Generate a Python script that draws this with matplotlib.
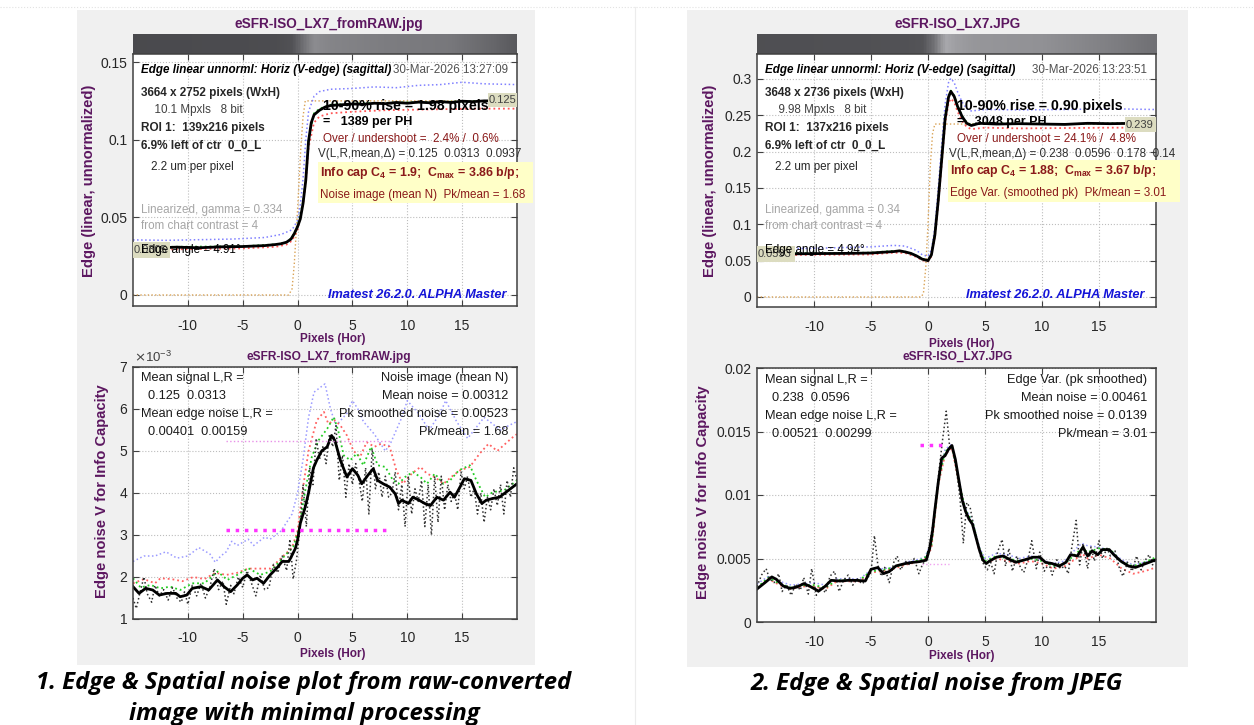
import matplotlib
matplotlib.use('Agg')
import matplotlib.pyplot as plt
import numpy as np
from matplotlib.patches import Rectangle
from matplotlib.colors import LinearSegmentedColormap

W, H = 1254, 725
plt.rcParams['font.family'] = ['Liberation Sans', 'DejaVu Sans']

# ---------------- data ----------------
# top-left: edge profile, raw-converted image
tl_black_x = [-15, -13, -11, -9, -7, -5, -3, -2, -1.5, -1, -0.6, -0.3, 0, 0.25, 0.5, 0.75, 1.0, 1.25,
              1.5, 2, 2.5, 3, 4, 5, 6, 7, 8, 9, 10, 11, 12, 13, 14, 15, 16, 17, 18, 19, 20]
tl_black_y = [0.0305, 0.0303, 0.0308, 0.0304, 0.0310, 0.0312, 0.0318, 0.0325, 0.0330, 0.0340, 0.0360,
              0.0395, 0.0440, 0.0490, 0.0590, 0.0740, 0.0990, 0.1110, 0.1160, 0.1190, 0.1210, 0.1220,
              0.1225, 0.1230, 0.1228, 0.1235, 0.1232, 0.1240, 0.1235, 0.1242, 0.1238, 0.1245, 0.1240,
              0.1248, 0.1245, 0.1250, 0.1250, 0.1252, 0.1250]
tl_red_x = [-15, -10, -5, -2, -1, -0.5, 0, 0.5, 0.75, 1.0, 1.5, 2, 3, 5, 8, 12, 16, 20]
tl_red_y = [0.029, 0.0295, 0.030, 0.031, 0.0325, 0.035, 0.042, 0.058, 0.073, 0.095, 0.111, 0.115,
            0.117, 0.118, 0.119, 0.1195, 0.120, 0.120]
tl_green_x = [-15, -5, -2, -1, -0.5, 0, 0.5, 0.75, 1.0, 1.5, 2, 3, 6, 10, 14, 17, 20]
tl_green_y = [0.0308, 0.0314, 0.0326, 0.034, 0.037, 0.044, 0.060, 0.075, 0.100, 0.117, 0.120, 0.1225,
              0.1235, 0.124, 0.1245, 0.125, 0.125]
tl_blue_x = [-15, -12, -9, -6, -3, -1.5, -0.5, 0, 0.25, 0.5, 0.75, 1.0, 1.5, 2.0, 3, 5, 7, 9, 11, 13,
             15, 17, 20]
tl_blue_y = [0.0355, 0.0352, 0.0356, 0.036, 0.037, 0.039, 0.042, 0.048, 0.058, 0.075, 0.100, 0.118,
             0.128, 0.131, 0.1325, 0.133, 0.134, 0.1335, 0.135, 0.1355, 0.137, 0.136, 0.1355]
tl_ideal_x = [-15, -0.8, -0.5, -0.3, 0, 0.3, 0.5, 0.7, 20]
tl_ideal_y = [0, 0, 0.004, 0.02, 0.055, 0.095, 0.115, 0.125, 0.125]

# top-right: edge profile, camera JPEG
tr_x = [-15, -13, -11, -9, -7, -5, -4, -3, -2.5, -2, -1.5, -1, -0.5, 0, 0.3, 0.6, 0.9, 1.2, 1.5, 1.8,
        2.0, 2.3, 2.6, 3.0, 3.4, 3.8, 4.5, 6, 8, 10, 12, 14, 16, 18, 20]
tr_black_y = [0.0593, 0.0592, 0.0595, 0.0598, 0.0600, 0.0605, 0.0615, 0.0625, 0.0635, 0.062, 0.060,
              0.0565, 0.052, 0.050, 0.058, 0.085, 0.133, 0.189, 0.245, 0.275, 0.283, 0.276, 0.262,
              0.248, 0.239, 0.236, 0.239, 0.238, 0.2385, 0.238, 0.2375, 0.239, 0.2385, 0.239, 0.239]
tr_c_x = [-15, -10, -5, -3, -2, -1, -0.5, 0, 0.3, 0.6, 0.9, 1.2, 1.5, 1.8, 2.0, 2.3, 2.6, 3.0, 3.4,
          3.8, 5, 8, 12, 16, 20]
tr_red_y = [0.0575, 0.058, 0.0585, 0.061, 0.0605, 0.055, 0.0505, 0.049, 0.056, 0.082, 0.128, 0.183,
            0.238, 0.267, 0.273, 0.268, 0.255, 0.242, 0.234, 0.231, 0.233, 0.232, 0.2325, 0.233, 0.233]
tr_green_y = [0.060, 0.0603, 0.061, 0.0635, 0.0625, 0.057, 0.0525, 0.0505, 0.058, 0.086, 0.134, 0.19,
              0.246, 0.276, 0.284, 0.277, 0.263, 0.249, 0.24, 0.237, 0.2395, 0.2385, 0.238, 0.239, 0.2395]
tr_blue_y = [0.066, 0.067, 0.069, 0.071, 0.070, 0.064, 0.058, 0.056, 0.065, 0.095, 0.15, 0.21, 0.265,
             0.295, 0.301, 0.295, 0.282, 0.268, 0.259, 0.256, 0.258, 0.2575, 0.258, 0.259, 0.258]
tr_ideal_x = [-15, -0.6, -0.4, -0.2, 0, 0.2, 0.4, 0.6, 20]
tr_ideal_y = [0, 0, 0.005, 0.04, 0.10, 0.18, 0.225, 0.238, 0.238]

# bottom-left: edge noise (x1e-3), raw-converted image
bl_black_x = [-15, -14.45, -13.85, -13.2, -12.6, -11.9, -11.1, -10.7, -10.1, -9.6, -8.8, -8.1, -7.3,
              -6.7, -6.1, -5.5, -5.0, -4.6, -4.1, -3.7, -3.1, -2.5, -1.9, -1.4, -0.8, -0.5, -0.2, 0,
              0.25, 0.7, 1.0, 1.45, 1.75, 2.2, 2.7, 3.1, 3.4, 3.9, 4.5, 5.0, 5.5, 5.85, 6.4, 6.9, 7.3,
              7.8, 8.4, 8.9, 9.2, 9.5, 10.1, 10.5, 11.0, 11.6, 12.1, 12.7, 13.3, 13.9, 14.3, 14.8,
              15.2, 15.8, 16.3, 16.8, 17.2, 17.8, 18.4, 19.2, 20]
bl_black_y = [1.77, 1.61, 1.73, 1.69, 1.57, 1.61, 1.61, 1.53, 1.57, 1.73, 1.77, 1.69, 1.93, 1.77, 1.65,
              1.81, 1.97, 2.05, 1.93, 1.97, 1.85, 2.05, 2.21, 2.37, 2.37, 2.52, 2.68, 2.88, 3.28, 3.67,
              4.0, 4.6, 4.78, 5.0, 5.1, 5.37, 5.25, 4.78, 4.38, 4.58, 4.42, 4.22, 4.42, 4.58, 4.3, 4.22,
              4.14, 3.98, 3.75, 3.83, 3.75, 3.9, 3.84, 3.75, 3.7, 3.9, 3.83, 4.02, 3.9, 4.14, 4.34, 4.3,
              3.98, 3.75, 3.83, 3.87, 3.9, 4.06, 4.22]
bl_green_x = [-15, -14.3, -13.4, -12.5, -11.6, -10.7, -9.6, -8.5, -7.3, -6.4, -5.5, -4.5, -3.4, -2.5,
              -1.4, -0.4, 0.1, 0.7, 1.3, 1.9, 2.7, 3.3, 3.7, 4.2, 4.8, 5.4, 6.0, 6.7, 7.3, 8.0, 8.7,
              9.2, 9.8, 10.5, 11.2, 11.8, 12.5, 13.3, 13.9, 14.7, 15.7, 16.3, 17.1, 17.8, 18.8, 19.8, 20]
bl_green_y = [1.97, 1.75, 1.81, 1.73, 1.77, 1.69, 1.85, 1.85, 2.13, 1.93, 2.05, 2.21, 2.05, 2.13, 2.44,
              2.72, 3.12, 4.06, 4.86, 5.25, 5.53, 5.81, 5.49, 4.9, 4.78, 4.94, 4.66, 5.1, 4.66, 4.62,
              4.3, 4.22, 4.38, 4.5, 4.38, 4.22, 4.46, 4.22, 4.3, 4.54, 4.66, 4.3, 3.9, 4.02, 4.06, 4.26, 4.3]
bl_red_x = [-15, -14, -13, -12.5, -11.5, -10.5, -9.5, -8.5, -7.5, -6.5, -5.5, -4.5, -3.5, -2.5, -1.5,
            -0.5, 0, 0.55, 1.0, 1.75, 2.4, 2.8, 3.4, 3.9, 4.5, 5.1, 5.7, 6.3, 7.0, 7.6, 8.4, 9.0, 9.6,
            10.4, 11.2, 11.8, 12.5, 13.3, 14.0, 14.8, 15.7, 16.6, 17.4, 18.2, 19.1, 19.8, 20]
bl_red_y = [1.85, 1.95, 1.85, 1.97, 1.95, 1.9, 2.0, 1.95, 2.1, 2.05, 2.1, 2.2, 2.2, 2.2, 2.45, 2.7, 3.1,
            4.22, 5.0, 5.73, 5.93, 5.65, 5.73, 5.61, 5.37, 5.0, 4.86, 5.21, 5.1, 5.17, 5.1, 4.54, 4.22,
            4.46, 4.62, 4.46, 4.38, 4.22, 4.38, 4.54, 4.62, 4.94, 5.17, 5.0, 5.21, 5.37, 5.4]
bl_blue_x = [-15, -14, -13, -12, -11, -10, -9, -8, -7.5, -7, -6.5, -6, -5.5, -4.5, -4, -3, -2.5, -1.5,
             -0.5, 0, 0.5, 1.0, 1.5, 2.5, 3.0, 3.5, 4.5, 5.0, 5.5, 6, 7, 8, 8.5, 9.5, 10, 11, 12, 13,
             13.5, 14.5, 15.5, 17, 18.5, 19.2, 20]
bl_blue_y = [2.37, 2.5, 2.5, 2.6, 2.45, 2.5, 2.7, 2.55, 2.35, 2.5, 2.6, 2.85, 2.75, 2.9, 2.75, 2.95, 2.9,
             3.1, 3.5, 4.0, 4.8, 5.8, 6.4, 6.6, 6.0, 5.6, 5.9, 6.2, 6.0, 5.7, 5.4, 5.0, 5.2, 5.8, 6.2,
             5.9, 5.5, 5.9, 6.2, 5.7, 5.3, 5.8, 5.5, 5.6, 5.7]
bl_raw_x = [-15, -14.7, -14.3, -14, -13.7, -13.3, -13, -12.6, -12.2, -11.8, -11.4, -11, -10.6, -10.3,
            -10, -9.6, -9.2, -8.8, -8.4, -8, -7.6, -7.2, -6.8, -6.5, -6.1, -5.8, -5.4, -5, -4.6, -4.2,
            -3.8, -3.4, -3, -2.6, -2.2, -1.8, -1.4, -1.0, -0.7, -0.4, -0.1, 0.2, 0.5, 0.8, 1.1, 1.4,
            1.7, 2.0, 2.3, 2.6, 2.9, 3.2, 3.5, 3.8, 4.1, 4.4, 4.7, 5.0, 5.3, 5.6, 5.9, 6.2, 6.5, 6.8,
            7.1, 7.4, 7.7, 8.0, 8.3, 8.6, 8.9, 9.2, 9.5, 9.8, 10.1, 10.4, 10.7, 11.0, 11.3, 11.6, 11.9,
            12.2, 12.5, 12.8, 13.1, 13.4, 13.7, 14.0, 14.3, 14.6, 14.9, 15.2, 15.5, 15.8, 16.1, 16.4,
            16.7, 17.0, 17.3, 17.6, 17.9, 18.2, 18.5, 18.8, 19.1, 19.4, 19.7, 20]
bl_raw_y = [1.5, 1.25, 1.7, 2.0, 1.6, 1.4, 1.8, 1.55, 1.7, 1.45, 1.75, 1.5, 1.4, 1.65, 1.35, 1.8, 1.55,
            1.85, 1.5, 1.75, 2.2, 1.7, 1.9, 1.35, 1.8, 1.6, 2.0, 1.75, 2.15, 1.85, 1.55, 2.05, 1.7, 1.75,
            2.3, 2.1, 2.5, 2.15, 2.9, 1.95, 2.4, 3.1, 4.2, 3.2, 4.6, 4.2, 5.3, 4.8, 5.1, 4.7, 5.4, 5.1,
            5.6, 4.3, 4.9, 3.9, 4.7, 4.2, 4.7, 4.3, 3.8, 4.6, 3.5, 5.05, 4.1, 4.5, 3.9, 4.4, 3.9, 4.0,
            4.5, 3.6, 4.2, 3.2, 4.4, 3.5, 4.1, 3.8, 4.3, 3.2, 4.2, 3.0, 4.4, 3.3, 4.4, 3.6, 4.2, 3.8,
            4.0, 3.6, 4.5, 4.1, 4.4, 3.9, 4.1, 3.5, 4.0, 3.3, 3.9, 3.6, 4.1, 3.7, 4.2, 3.5, 4.3, 3.9,
            4.6, 4.3]
bl_pk_x = [-6.5, 8.4]
bl_pk_y = [5.25, 5.25]
bl_mean_x = [-6.5, 8.4]
bl_mean_y = [3.12, 3.12]

# bottom-right: edge noise, camera JPEG
br_black_x = [-15, -14.3, -13.7, -13.3, -12.7, -12.1, -11.5, -10.9, -10.4, -9.6, -9.0, -8.5, -7.7,
              -7.0, -6.3, -5.5, -5.0, -4.4, -3.9, -3.4, -2.8, -2.0, -1.5, -0.7, -0.15, 0.15, 0.4,
              0.6, 0.9, 1.2, 1.5, 1.8, 2.1, 2.4, 2.7, 3.0, 3.3, 3.6, 3.9, 4.2, 4.5, 4.8, 5.1, 5.4,
              6.0, 6.6, 7.1, 7.7, 8.5, 9.2, 9.8, 10.3, 10.9, 11.5, 12.1, 12.5, 13.1, 13.6, 14.0, 14.4,
              14.9, 15.3, 15.9, 16.3, 16.9, 17.6, 18.2, 18.8, 19.4, 20.0]
br_black_y = [0.0026, 0.0031, 0.00355, 0.00336, 0.00283, 0.00265, 0.00275, 0.00302, 0.00283, 0.00243,
              0.00283, 0.00328, 0.00323, 0.00328, 0.00328, 0.00323, 0.00415, 0.00429, 0.00381,
              0.00397, 0.00442, 0.0046, 0.00468, 0.00476, 0.00487, 0.0058, 0.0072, 0.0088, 0.0110,
              0.0129, 0.0131, 0.0136, 0.0139, 0.0128, 0.0112, 0.0096, 0.0087, 0.0081, 0.0077, 0.0067,
              0.0057, 0.0049, 0.0046, 0.0048, 0.0051, 0.0052, 0.00495, 0.0047, 0.0049, 0.0051, 0.0051,
              0.0047, 0.0046, 0.0044, 0.0047, 0.0053, 0.0052, 0.0059, 0.0052, 0.0056, 0.0053, 0.0057,
              0.0057, 0.0053, 0.0048, 0.0044, 0.0043, 0.0045, 0.0047, 0.0049]
br_c_x = [-15, -14, -13, -12, -11, -10, -9, -8, -7, -6, -5, -4, -3, -2, -1, -0.3, 0.3, 0.9, 1.5, 2.1,
          2.7, 3.3, 3.9, 4.5, 5, 6, 7, 8, 9, 10, 11, 12, 13, 13.5, 14, 15, 16, 17, 18, 19, 20]
br_blue_y = [0.0030, 0.0036, 0.0032, 0.0029, 0.0030, 0.0031, 0.0029, 0.0034, 0.0034, 0.0034, 0.0041,
             0.0042, 0.0043, 0.0047, 0.0049, 0.0051, 0.0062, 0.0112, 0.0136, 0.0140, 0.0112, 0.0089,
             0.0080, 0.0059, 0.0050, 0.0054, 0.0053, 0.0050, 0.0052, 0.0049, 0.0046, 0.0048, 0.0058,
             0.0062, 0.0060, 0.0059, 0.0056, 0.0049, 0.0045, 0.0047, 0.0049]
br_red_y = [0.0026, 0.0034, 0.0029, 0.0026, 0.0028, 0.0028, 0.0026, 0.0032, 0.0032, 0.0032, 0.0039,
            0.0040, 0.0042, 0.0045, 0.0047, 0.0049, 0.0058, 0.0108, 0.0132, 0.0137, 0.0110, 0.0087,
            0.0077, 0.0056, 0.0046, 0.0050, 0.0048, 0.0046, 0.0048, 0.0046, 0.0042, 0.0044, 0.0050,
            0.0054, 0.0050, 0.0053, 0.0050, 0.0042, 0.0038, 0.0040, 0.0043]
br_green_y = [0.0027, 0.0035, 0.0030, 0.0027, 0.0029, 0.0029, 0.0027, 0.0033, 0.0033, 0.0033, 0.0040,
              0.0041, 0.0043, 0.0046, 0.0048, 0.0050, 0.0060, 0.0110, 0.0134, 0.0139, 0.0111, 0.0088,
              0.0079, 0.0058, 0.0048, 0.0052, 0.0050, 0.0048, 0.0050, 0.0048, 0.0044, 0.0046, 0.0054,
              0.0058, 0.0055, 0.0058, 0.0057, 0.0047, 0.0044, 0.0047, 0.0051]
br_raw_x = [-15, -14.6, -14.2, -13.9, -13.5, -13.1, -12.8, -12.4, -12.0, -11.6, -11.2, -10.9, -10.5,
            -10.2, -9.8, -9.4, -9.0, -8.6, -8.2, -7.8, -7.4, -7.0, -6.6, -6.2, -5.8, -5.4, -5.0, -4.7,
            -4.4, -4.1, -3.8, -3.4, -3.0, -2.7, -2.4, -2.0, -1.6, -1.2, -0.8, -0.5, -0.2, 0.1, 0.4,
            0.7, 1.0, 1.3, 1.6, 1.9, 2.2, 2.5, 2.8, 3.1, 3.4, 3.7, 4.0, 4.3, 4.6, 4.9, 5.2, 5.5, 5.8,
            6.1, 6.5, 6.8, 7.1, 7.4, 7.8, 8.1, 8.4, 8.8, 9.1, 9.5, 9.8, 10.2, 10.6, 10.9, 11.3, 11.6,
            12.0, 12.3, 12.6, 13.0, 13.3, 13.6, 14.0, 14.3, 14.6, 15.0, 15.3, 15.7, 16.0, 16.4, 16.8,
            17.1, 17.5, 17.9, 18.3, 18.7, 19.0, 19.4, 19.7, 20.0]
br_raw_y = [0.0028, 0.0037, 0.0042, 0.0034, 0.0031, 0.0038, 0.0024, 0.0029, 0.0021, 0.0030, 0.0025,
            0.0035, 0.0022, 0.0042, 0.0021, 0.0028, 0.0023, 0.0036, 0.0040, 0.0024, 0.0033, 0.0037,
            0.0029, 0.0034, 0.0030, 0.0033, 0.0039, 0.0068, 0.0045, 0.0036, 0.0043, 0.0031, 0.0047,
            0.0052, 0.0041, 0.0048, 0.0045, 0.0050, 0.0038, 0.0045, 0.0049, 0.0060, 0.0075, 0.0096,
            0.0122, 0.0145, 0.0166, 0.0138, 0.0135, 0.0120, 0.0098, 0.0062, 0.0094, 0.0090, 0.0076,
            0.0065, 0.0052, 0.0045, 0.0041, 0.0047, 0.0038, 0.0055, 0.0065, 0.0044, 0.0058, 0.0040,
            0.0052, 0.0043, 0.0039, 0.0050, 0.0064, 0.0042, 0.0055, 0.0040, 0.0046, 0.0037, 0.0049,
            0.0042, 0.0044, 0.0038, 0.0058, 0.0080, 0.0045, 0.0062, 0.0042, 0.0059, 0.0048, 0.0064,
            0.0050, 0.0058, 0.0052, 0.0056, 0.0042, 0.0036, 0.0047, 0.0040, 0.0052, 0.0041, 0.0048,
            0.0053, 0.0045, 0.0050]
br_pk_x = [-0.7, 1.7]
br_pk_y = [0.0139, 0.0139]
br_mean_x = [-0.5, 1.8]
br_mean_y = [0.0046, 0.0046]

# grey strip above the edge plots (image of the edge), level at x stops
tl_bar_x = [-15, -2, -0.5, 0.5, 1.5, 3, 8, 14, 18, 20]
tl_bar_g = [0.29, 0.30, 0.32, 0.44, 0.55, 0.52, 0.49, 0.47, 0.40, 0.35]
tr_bar_x = [-15, -2, -0.5, 0.5, 1.5, 2.5, 4, 10, 16, 20]
tr_bar_g = [0.31, 0.32, 0.33, 0.45, 0.66, 0.62, 0.59, 0.57, 0.50, 0.44]

xticks = [-10, -5, 0, 5, 10, 15]
PURPLE = '#5c1760'
DKRED = '#8b1a1a'
GREY = '#262626'


def box(x0, y0, x1, y1):
    return [x0 / W, 1 - y1 / H, (x1 - x0) / W, (y1 - y0) / H]


def ftext(x, y, s, **kw):
    kw.setdefault('va', 'center')
    kw.setdefault('color', GREY)
    return fig.text(x / W, 1 - y / H, s, **kw)


def frect(x0, y0, x1, y1, color, z=1):
    fig.add_artist(Rectangle((x0 / W, 1 - y1 / H), (x1 - x0) / W, (y1 - y0) / H,
                             transform=fig.transFigure, fc=color, ec='none', zorder=z))


def style(ax, ylim, yticks, ylabels):
    ax.set_xlim(-15, 20)
    ax.set_ylim(*ylim)
    ax.set_xticks(xticks)
    ax.set_xticklabels([str(t) for t in xticks])
    ax.set_yticks(yticks)
    ax.set_yticklabels(ylabels)
    ax.tick_params(direction='in', length=4, width=0.8, top=True, right=True, labelsize=10,
                   labelcolor=GREY, color='#404040')
    ax.tick_params(axis='x', pad=9)
    ax.tick_params(axis='y', pad=4)
    ax.grid(True, ls=':', color='#bdbdbd', lw=0.8)
    for s in ax.spines.values():
        s.set_color('#404040')
        s.set_linewidth(1.1)


def strip(bx, xs, gs):
    ax = fig.add_axes(box(*bx))
    cm = LinearSegmentedColormap.from_list(
        'strip', [((x - xs[0]) / (xs[-1] - xs[0]), (g, g, g + 0.015)) for x, g in zip(xs, gs)])
    ax.imshow(np.linspace(0, 1, 400)[None, :], cmap=cm, aspect='auto', extent=[-15, 20, 0, 1])
    ax.set_axis_off()


fig = plt.figure(figsize=(W / 100, H / 100), dpi=100, facecolor='white')

# page decoration and grey figure panels
fig.add_artist(plt.Line2D([0, 1], [1 - 7 / H] * 2, transform=fig.transFigure, color='#e2e2e2',
                          lw=0.8, ls=':'))
fig.add_artist(plt.Line2D([635 / W] * 2, [0, 1 - 7 / H], transform=fig.transFigure, color='#ececec',
                          lw=0.8))
frect(77, 10, 535, 665, '#f0f0f0', z=-5)
frect(687, 10, 1188, 667, '#f0f0f0', z=-5)

# ---------- top-left ----------
strip((133, 34, 517, 54), tl_bar_x, tl_bar_g)
ax = fig.add_axes(box(133, 54, 517, 306))
ax.plot(tl_ideal_x, tl_ideal_y, ls=':', color='#d9a255', lw=1)
ax.plot(tl_blue_x, tl_blue_y, ls=':', color='#8080ff', lw=1.1)
ax.plot(tl_red_x, tl_red_y, ls=':', color='#ff5555', lw=1.3)
ax.plot(tl_green_x, tl_green_y, ls=':', color='#22bb22', lw=1.3)
ax.plot(tl_black_x, tl_black_y, color='black', lw=2)
style(ax, (-0.0071, 0.1552), [0, 0.05, 0.1, 0.15], ['0', '0.05', '0.1', '0.15'])

# ---------- top-right ----------
strip((757, 34, 1156, 54), tr_bar_x, tr_bar_g)
ax = fig.add_axes(box(757, 54, 1156, 307))
ax.plot(tr_ideal_x, tr_ideal_y, ls=':', color='#d9a255', lw=1)
ax.plot(tr_c_x, tr_blue_y, ls=':', color='#8080ff', lw=1.1)
ax.plot(tr_c_x, tr_red_y, ls=':', color='#ff5555', lw=1.3)
ax.plot(tr_c_x, tr_green_y, ls=':', color='#22bb22', lw=1.3)
ax.plot(tr_x, tr_black_y, color='black', lw=2)
style(ax, (-0.0138, 0.3344), [0, 0.05, 0.1, 0.15, 0.2, 0.25, 0.3],
      ['0', '0.05', '0.1', '0.15', '0.2', '0.25', '0.3'])

# ---------- bottom-left ----------
ax = fig.add_axes(box(133, 367, 517, 619))
ax.plot(bl_blue_x, bl_blue_y, ls=':', color='#9a9aff', lw=1.1)
ax.plot(bl_red_x, bl_red_y, ls=':', color='#ff6060', lw=1.3)
ax.plot(bl_green_x, bl_green_y, ls=':', color='#22cc22', lw=1.3)
ax.plot(bl_raw_x, bl_raw_y, ls=':', color='#303030', lw=1.1)
ax.plot(bl_black_x, bl_black_y, color='black', lw=2)
ax.plot(bl_pk_x, bl_pk_y, ls=':', color='#e890e8', lw=1)
ax.plot(bl_mean_x, bl_mean_y, ls=':', color='#ff33ff', lw=2.5)
style(ax, (1, 7), [1, 2, 3, 4, 5, 6, 7], ['1', '2', '3', '4', '5', '6', '7'])

# ---------- bottom-right ----------
ax = fig.add_axes(box(757, 368, 1156, 622))
ax.plot(br_c_x, br_blue_y, ls=':', color='#9a9aff', lw=1.1)
ax.plot(br_c_x, br_red_y, ls=':', color='#ff6060', lw=1.3)
ax.plot(br_c_x, br_green_y, ls=':', color='#22cc22', lw=1.3)
ax.plot(br_raw_x, br_raw_y, ls=':', color='#303030', lw=1.1)
ax.plot(br_black_x, br_black_y, color='black', lw=2)
ax.plot(br_mean_x, br_mean_y, ls=':', color='#f0a0f0', lw=1)
ax.plot(br_pk_x, br_pk_y, ls=':', color='#ff33ff', lw=2.5)
style(ax, (0, 0.02), [0, 0.005, 0.01, 0.015, 0.02], ['0', '0.005', '0.01', '0.015', '0.02'])

# ---------- titles and axis labels ----------
for cx, name in [(329, 'eSFR-ISO_LX7_fromRAW.jpg'), (958, 'eSFR-ISO_LX7.JPG')]:
    ftext(cx, 24, name, ha='center', fontsize=9.8, weight='bold', color=PURPLE)
    ftext(cx, 357, name, ha='center', fontsize=8.6, weight='bold', color=PURPLE)
for cx, y1, y2 in [(333, 339, 654), (962, 344, 656)]:
    ftext(cx, y1, 'Pixels (Hor)', ha='center', fontsize=8.5, weight='bold', color=PURPLE)
    ftext(cx, y2, 'Pixels (Hor)', ha='center', fontsize=8.5, weight='bold', color=PURPLE)
for x, y in [(89, 181), (710, 181)]:
    ftext(x, y, 'Edge (linear, unnormalized)', ha='center', rotation=90, fontsize=10.6,
          weight='bold', color=PURPLE)
for x, y in [(102, 491), (703, 492)]:
    ftext(x, y, 'Edge noise V for Info Capacity', ha='center', rotation=90, fontsize=10.6,
          weight='bold', color=PURPLE)
ftext(134, 357, r'$\times\mathregular{10^{-3}}$', fontsize=9.5, color='#404040')

# ---------- edge plot annotations ----------
edge_txt = [
    dict(x=141, rx=508, xr=323, img='3664 x 2752 pixels (WxH)', mp='  10.1 Mpxls   8 bit',
         roi='ROI 1:  139x216 pixels', date='30-Mar-2026 13:27:09', gamma='Linearized, gamma = 0.334',
         angle='Edge angle = 4.91°', rise='10-90% rise = 1.98 pixels', ph='=   1389 per PH',
         over='Over / undershoot =  2.4% /  0.6%', v='V(L,R,mean,Δ) = 0.125  0.0313  0.0937',
         vx=318, yb=(318, 162, 533, 203), info=r'Info cap C$_\mathregular{4}$ = 1.9;  C$_\mathregular{max}$ = 3.86 b/p;',
         noise='Noise image (mean N)  Pk/mean = 1.68', imx=507,
         rbox=(488, 93, 517, 107, '0.125'), lbox=(133, 242, 170, 258, '0.0305')),
    dict(x=765, rx=1147, xr=957, img='3648 x 2736 pixels (WxH)', mp='  9.98 Mpxls   8 bit',
         roi='ROI 1:  137x216 pixels', date='30-Mar-2026 13:23:51', gamma='Linearized, gamma = 0.34',
         angle='Edge angle = 4.94°', rise='10-90% rise = 0.90 pixels', ph='=   3048 per PH',
         over='Over / undershoot = 24.1% /  4.8%', v='V(L,R,mean,Δ) = 0.238  0.0596  0.178  0.14',
         vx=949, yb=(948, 160, 1180, 202), info=r'Info cap C$_\mathregular{4}$ = 1.88;  C$_\mathregular{max}$ = 3.67 b/p;',
         noise='Edge Var. (smoothed pk)  Pk/mean = 3.01', imx=1145,
         rbox=(1125, 117, 1156, 132, '0.239'), lbox=(757, 246, 795, 262, '0.0593')),
]
for d in edge_txt:
    x = d['x']
    ftext(x, 70, 'Edge linear unnorml: Horiz (V-edge) (sagittal)', fontsize=8.4, weight='bold',
          style='italic', color='black')
    ftext(d['rx'], 70, d['date'], ha='right', fontsize=8.4, color='#505050')
    ftext(x, 93, d['img'], fontsize=8.5, weight='bold')
    ftext(x + 7, 110, d['mp'], fontsize=8.4, color='#404040')
    ftext(x, 128, d['roi'], fontsize=8.5, weight='bold')
    ftext(x, 146, '6.9% left of ctr  0_0_L', fontsize=8.5, weight='bold')
    ftext(x + 10, 167, '2.2 um per pixel', fontsize=8.4)
    ftext(x, 210, d['gamma'], fontsize=8.4, color='#a6a6a6')
    ftext(x, 226, 'from chart contrast = 4', fontsize=8.4, color='#a6a6a6')
    bx0, by0, bx1, by1, lab = d['lbox']
    frect(bx0, by0, bx1, by1, '#dcdcc0', z=2)
    ftext(bx0 + 1, (by0 + by1) / 2, lab, fontsize=8, color='#404040')
    ftext(x, 250, d['angle'], fontsize=8.4, color='black')
    bx0, by0, bx1, by1, lab = d['rbox']
    frect(bx0, by0, bx1, by1, '#dcdcc0', z=2)
    ftext(bx0 + 1, (by0 + by1) / 2, lab, fontsize=8, color='#404040')
    ftext(d['xr'], 106, d['rise'], fontsize=10.2, weight='bold', color='black')
    ftext(d['xr'], 122, d['ph'], fontsize=9, weight='bold', color='black')
    ftext(d['xr'], 139, d['over'], fontsize=8.4, color=DKRED)
    ftext(d['vx'], 154, d['v'], fontsize=8.4, color='#303030')
    frect(*d['yb'], '#ffffc8', z=2)
    ftext(d['yb'][0] + 2, d['yb'][1] + 11, d['info'], fontsize=8.9, weight='bold', color=DKRED)
    ftext(d['yb'][0] + 2, d['yb'][1] + 33, d['noise'], fontsize=8.4, color=DKRED)
    ftext(d['imx'], 295, 'Imatest 26.2.0. ALPHA Master', ha='right', fontsize=9.2, weight='bold',
          style='italic', color='#1414d8')

# ---------- noise plot annotations ----------
noise_txt = [
    (141, 508, ['Mean signal L,R =', '  0.125  0.0313', 'Mean edge noise L,R =', '  0.00401  0.00159'],
     ['Noise image (mean N)', 'Mean noise = 0.00312', 'Pk smoothed noise = 0.00523', 'Pk/mean = 1.68'], 378),
    (765, 1147, ['Mean signal L,R =', '  0.238  0.0596', 'Mean edge noise L,R =', '  0.00521  0.00299'],
     ['Edge Var. (pk smoothed)', 'Mean noise = 0.00461', 'Pk smoothed noise = 0.0139', 'Pk/mean = 3.01'], 380),
]
for lx, rx, left, right, y0 in noise_txt:
    for i, (a, b) in enumerate(zip(left, right)):
        ftext(lx, y0 + 18 * i, a, fontsize=9.2, color='#1a1a1a')
        ftext(rx, y0 + 18 * i, b, ha='right', fontsize=9.2, color='#1a1a1a')

# ---------- captions ----------
cap = dict(fontsize=17.2, weight='bold', style='italic', color='black', ha='center',
           family=['Open Sans', 'DejaVu Sans'])
ftext(304, 683, '1. Edge & Spatial noise plot from raw-converted', **cap)
ftext(304, 714, 'image with minimal processing', **cap)
ftext(937, 684, '2. Edge & Spatial noise from JPEG', **cap)

fig.savefig('out.png', dpi=100, facecolor='white')
